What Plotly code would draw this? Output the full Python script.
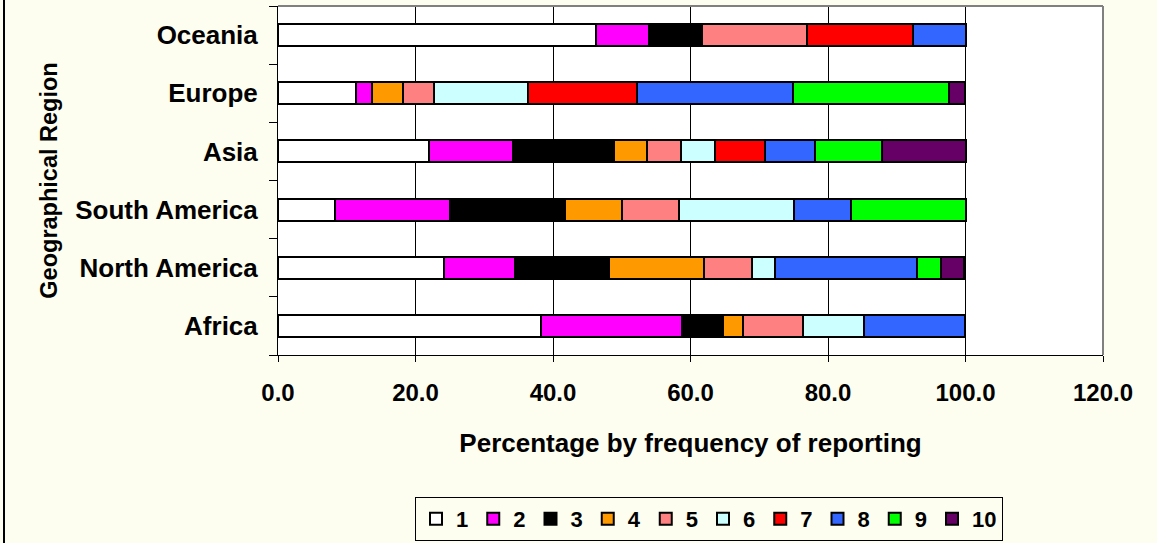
import plotly.graph_objects as go

regions = ["Africa", "North America", "South America", "Asia", "Europe", "Oceania"]
series_names = ["1", "2", "3", "4", "5", "6", "7", "8", "9", "10"]
colors = ["#FFFFFF", "#FF00FF", "#000000", "#FF9900", "#FF8080",
          "#CCFFFF", "#FF0000", "#3366FF", "#00FF00", "#660066"]

# percentage per region (rows follow `regions`), columns follow series 1..10
africa = [38.2, 20.6, 5.9, 2.9, 8.8, 8.8, 0, 14.7, 0, 0]
north_america = [24.1, 10.3, 13.8, 13.8, 6.9, 3.4, 0, 20.7, 3.4, 3.4]
south_america = [8.3, 16.7, 16.7, 8.3, 8.3, 16.7, 0, 8.3, 16.7, 0]
asia = [22.0, 12.2, 14.6, 4.9, 4.9, 4.9, 7.3, 7.3, 9.8, 12.2]
europe = [11.4, 2.3, 0, 4.5, 4.5, 13.6, 15.9, 22.7, 22.7, 2.3]
oceania = [46.2, 7.7, 7.7, 0, 15.4, 0, 15.4, 7.7, 0, 0]

rows = [africa, north_america, south_america, asia, europe, oceania]
x_ticks = [0, 20, 40, 60, 80, 100, 120]
x_tick_labels = ["0.0", "20.0", "40.0", "60.0", "80.0", "100.0", "120.0"]

FONT = "Liberation Sans, Arial, sans-serif"

fig = go.Figure()
for i, name in enumerate(series_names):
    vals = [r[i] for r in rows]
    fig.add_trace(go.Bar(
        y=regions, x=vals, name=name, orientation="h",
        marker=dict(color=colors[i], line=dict(color="#000000", width=2)),
    ))

W, H = 1157, 543
L, R, T, B = 278, 54, 6, 188
pw, ph = W - L - R, H - T - B

fig.update_layout(
    width=W, height=H,
    barmode="stack", bargap=0.62,
    margin=dict(l=L, r=R, t=T, b=B, autoexpand=False),
    paper_bgcolor="#FEFEF0", plot_bgcolor="#FFFFFF",
    font=dict(family=FONT, color="#000000"),
    showlegend=True,
    legend=dict(
        orientation="h", xref="paper", yref="paper",
        x=(709 - L) / pw, xanchor="center",
        y=(H - B - 497) / ph, yanchor="top",
        bgcolor="#FEFEF0", bordercolor="#000000", borderwidth=1,
        font=dict(family=FONT, size=22, weight="bold"),
        traceorder="normal", itemwidth=30,
    ),
    xaxis=dict(
        range=[0, 120], tickvals=x_ticks, ticktext=x_tick_labels,
        showgrid=True, gridcolor="#000000", gridwidth=1,
        showline=True, linecolor="#000000", linewidth=1,
        ticks="outside", ticklen=6, tickcolor="#000000",
        ticklabelstandoff=10, automargin=False,
        tickfont=dict(family=FONT, size=24, weight="bold"),
        zeroline=False,
        title=dict(text="Percentage by frequency of reporting",
                   font=dict(family=FONT, size=26, weight="bold"), standoff=29),
    ),
    yaxis=dict(
        showline=True, linecolor="#000000", linewidth=1,
        ticks="outside", ticklen=8, tickcolor="#000000", tickson="boundaries",
        showgrid=False, ticklabelstandoff=14, automargin=False,
        tickfont=dict(family=FONT, size=26, weight="bold"),
        title=dict(text="Geographical Region",
                   font=dict(family=FONT, size=23.5, weight="bold"), standoff=11),
    ),
    shapes=[
        dict(type="line", xref="paper", yref="paper", x0=0, x1=1, y0=1, y1=1,
             line=dict(color="#808080", width=2)),
        dict(type="line", xref="paper", yref="paper", x0=1, x1=1, y0=0, y1=1,
             line=dict(color="#808080", width=2)),
        dict(type="line", xref="paper", yref="paper",
             x0=(4 - L) / pw, x1=(4 - L) / pw,
             y0=(H - B - H) / ph, y1=(H - B) / ph,
             line=dict(color="#000000", width=2)),
    ],
)

fig.write_html(
    "out.html",
    config={"displayModeBar": False},
    post_script="document.body.style.margin='0';document.body.style.background='#FEFEF0';",
)
